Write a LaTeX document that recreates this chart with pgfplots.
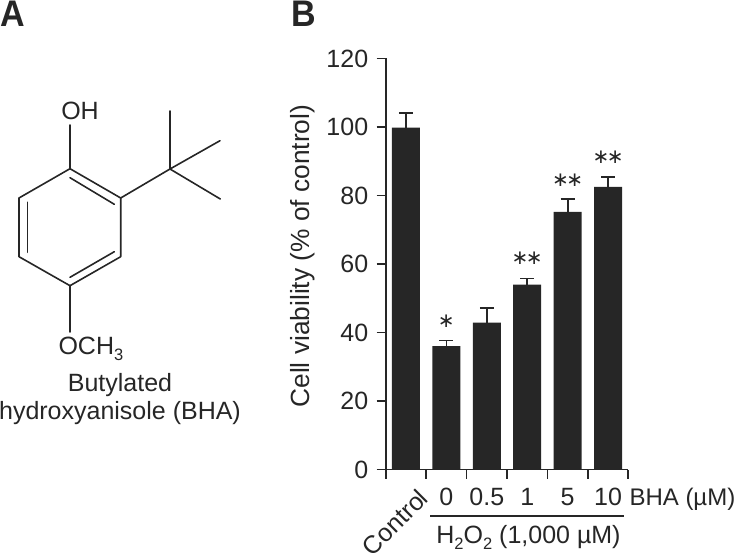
\documentclass[border=0pt]{standalone}
\usepackage{pgfplots}
\pgfplotsset{compat=1.18}
\usepackage{fontspec}
\setmainfont{Liberation Sans}
\newfontfamily\starfont{DejaVu Sans}
\definecolor{ink}{HTML}{262626}
\newcommand{\lab}{\fontsize{25}{29}\selectfont}
\newcommand{\sub}[1]{\raisebox{-0.25em}{\fontsize{16.5}{18}\selectfont #1}}
\newcommand{\sig}{{\starfont\fontsize{20}{22}\selectfont ∗}}
\begin{document}
\begin{tikzpicture}
\useasboundingbox (0,0) rectangle (735pt,552pt);

% panel A, positions in image pixels
\begin{scope}[x=1pt,y=-1pt,shift={(0,552pt)},color=ink,line width=1.6pt,line cap=round,line join=round]
\draw (70,168.7) -- (120.7,198) -- (120.7,256.7) -- (70,285.7) -- (19,256.7) -- (19,198) -- cycle;
\draw (70,177.7) -- (114.3,204.3);
\draw (27.3,202.3) -- (27.3,252.3);
\draw (114.3,251.7) -- (70,277.3);
\draw (70,168.7) -- (70,125);
\draw (70,285.7) -- (70,332);
\draw (120.7,198) -- (170,169);
\draw (170,169) -- (170,111);
\draw (170,169) -- (220,140.7);
\draw (170,169) -- (220.3,199);
\node[anchor=base,inner sep=0pt,text=ink] at (80,120) {\lab OH};
\node[anchor=base west,inner sep=0pt,text=ink] at (57.7,354) {\lab OCH\sub{3}};
\node[anchor=base,inner sep=0pt,text=ink] at (120,391.7) {\lab Butylated};
\node[anchor=base,inner sep=0pt,text=ink] at (120,419) {\lab hydroxyanisole (BHA)};
\node[anchor=base west,inner sep=0pt,text=ink,xscale=0.92] at (0,27) {\fontsize{37}{40}\selectfont\bfseries A};
\node[anchor=base west,inner sep=0pt,text=ink,xscale=0.92] at (291,27) {\fontsize{37}{40}\selectfont\bfseries B};
\end{scope}

\begin{axis}[
  at={(385.7pt,82.5pt)},
  anchor=south west,
  scale only axis,
  width=242.6pt,
  height=411pt,
  xmin=-0.5, xmax=5.5,
  ymin=0, ymax=120,
  ytick={0,20,...,120},
  xtick={-0.5,0.5,...,5.5},
  xticklabels={},
  extra x ticks={1,2,3,4,5},
  extra x tick labels={0,0.5,1,5,10},
  extra x tick style={major tick length=0pt,
    tick label style={yshift=-15pt}},
  axis x line*=bottom,
  axis y line*=left,
  axis line style={ink,line width=1.7pt},
  tick style={ink,line width=1.7pt},
  tick align=outside,
  major tick length=9pt,
  clip=false,
  ticklabel style={font=\lab,text=ink},
  yticklabel style={xshift=-5pt},
  /pgf/number format/assume math mode=true,
  ylabel={Cell viability (\% of control)},
  ylabel style={font=\fontsize{26.3}{30}\selectfont,text=ink,
    at={(axis description cs:-0.341,0.519)},anchor=center},
  ybar,
  bar width=28pt,
  bar shift=0pt,
]

\addplot[fill=ink,draw=none,
  error bars/.cd,
  y dir=plus,
  y explicit,
  error bar style={ink,line width=1.7pt},
  error mark options={ink,rotate=90,mark size=7pt,line width=1.7pt},
] coordinates {
  (0,99.8) +- (0,4.2)
  (1,36.0) +- (0,1.7)
  (2,42.9) +- (0,4.3)
  (3,54.0) +- (0,1.8)
  (4,75.2) +- (0,3.7)
  (5,82.5) +- (0,2.8)
};

\node[text=ink,inner sep=0pt] at (axis cs:1,43.4) {\sig};
\node[text=ink,inner sep=0pt] at (axis cs:3,61.6) {\sig\hspace{-2.5pt}\sig};
\node[text=ink,inner sep=0pt] at (axis cs:4,84.6) {\sig\hspace{-2.5pt}\sig};
\node[text=ink,inner sep=0pt] at (axis cs:5,91.1) {\sig\hspace{-2.5pt}\sig};
\end{axis}

% labels under the axis
\begin{scope}[x=1pt,y=-1pt,shift={(0,552pt)},color=ink]
\draw[line width=1.6pt] (430,515.7) -- (624,515.7);
\node[anchor=base west,inner sep=0pt,text=ink] at (629.3,505) {\fontsize{24}{28}\selectfont BHA (µM)};
\node[anchor=base,inner sep=0pt,text=ink] at (528.5,543) {\lab H\sub{2}O\sub{2} (1,000 µM)};
\node[anchor=north east,inner sep=0pt,text=ink,rotate=45] at (417,487) {\lab Control};
\end{scope}
\end{tikzpicture}
\end{document}
